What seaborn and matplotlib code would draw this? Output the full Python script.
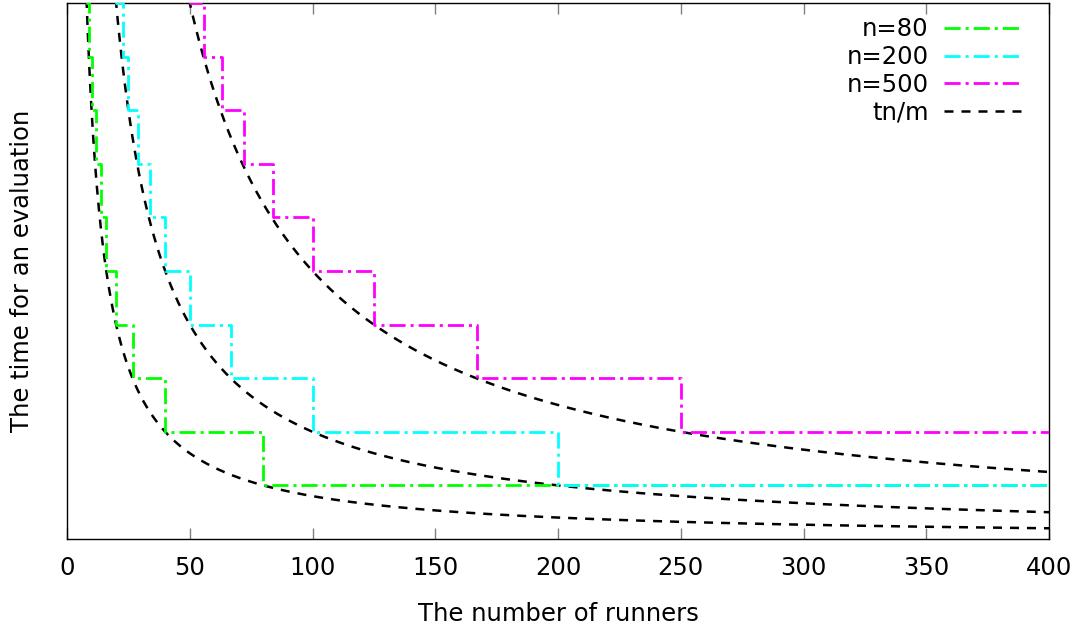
import numpy as np
import pandas as pd
import matplotlib
matplotlib.use("Agg")
import matplotlib.pyplot as plt
import seaborn as sns

# Data
n_values = [80, 200, 500]
series_labels = ["n=80", "n=200", "n=500"]
# step breakpoints (number of runners m, time level in units of t)
steps_m_80 = [7, 8, 9, 10, 12, 14, 16, 20, 27, 40, 80, 400]
steps_y_80 = [12, 10, 9, 8, 7, 6, 5, 4, 3, 2, 1, 1]
steps_m_200 = [19, 20, 23, 25, 29, 34, 40, 50, 67, 100, 200, 400]
steps_y_200 = [11, 10, 9, 8, 7, 6, 5, 4, 3, 2, 1, 1]
steps_m_500 = [49, 50, 56, 63, 72, 84, 100, 125, 167, 250, 400]
steps_y_500 = [11, 10, 9, 8, 7, 6, 5, 4, 3, 2, 2]
x_ticks = [0, 50, 100, 150, 200, 250, 300, 350, 400]
x_label = "The number of runners"
y_label = "The time for an evaluation"
colors = ["#00ff00", "#00ffff", "#ff00ff"]

sns.set_theme(style="white")
plt.rcParams['font.family'] = ['DejaVu Sans']
plt.rcParams['text.color'] = 'black'
plt.rcParams['axes.labelcolor'] = 'black'
plt.rcParams['xtick.color'] = 'black'

FS = 17.5
fig = plt.figure(figsize=(10.87, 6.27), dpi=100)
ax = fig.add_axes([67/1087, 88/627, (1049-67)/1087, (539-3)/627])

step_sets = [(steps_m_80, steps_y_80), (steps_m_200, steps_y_200), (steps_m_500, steps_y_500)]
dashdot = (0, (5.8, 1.8, 1.1, 1.8))
for (ms, ys), lab, col in zip(step_sets, series_labels, colors):
    df = pd.DataFrame({"m": ms, "y": ys})
    sns.lineplot(data=df, x="m", y="y", ax=ax, color=col, lw=2.0,
                 drawstyle="steps-post", label=lab, sort=False,
                 estimator=None, zorder=3)
    ax.lines[-1].set_linestyle(dashdot)

m_grid = np.linspace(1, 400, 1600)
for i, n in enumerate(n_values):
    df = pd.DataFrame({"m": m_grid, "y": n / m_grid})
    sns.lineplot(data=df, x="m", y="y", ax=ax, color="black", lw=1.8,
                 label="tn/m" if i == 0 else None, estimator=None, sort=False,
                 zorder=2)
    ax.lines[-1].set_linestyle((0, (3.6, 3.2)))

ax.set_xlim(0, 400)
ax.set_ylim(0, 10)
ax.set_xticks(x_ticks)
ax.set_yticks([])
ax.tick_params(axis="x", direction="in", length=8, width=1, color="#808080",
               top=True, bottom=True, labelsize=FS, pad=12, labelcolor="black")
for s in ax.spines.values():
    s.set_color("black")
    s.set_linewidth(1.0)
ax.set_xlabel(x_label, fontsize=FS, labelpad=16)
ax.set_ylabel(y_label, fontsize=FS, labelpad=24)

leg = ax.legend(loc="upper right", frameon=False, fontsize=FS, markerfirst=False,
                handlelength=3.2, handletextpad=0.62, labelspacing=0.15,
                borderaxespad=0.4, borderpad=0.4,
                bbox_to_anchor=(1 - 8/982, 1 + 5/536))
for t in leg.get_texts():
    t.set_color("black")

fig.savefig("out.png", dpi=100)
